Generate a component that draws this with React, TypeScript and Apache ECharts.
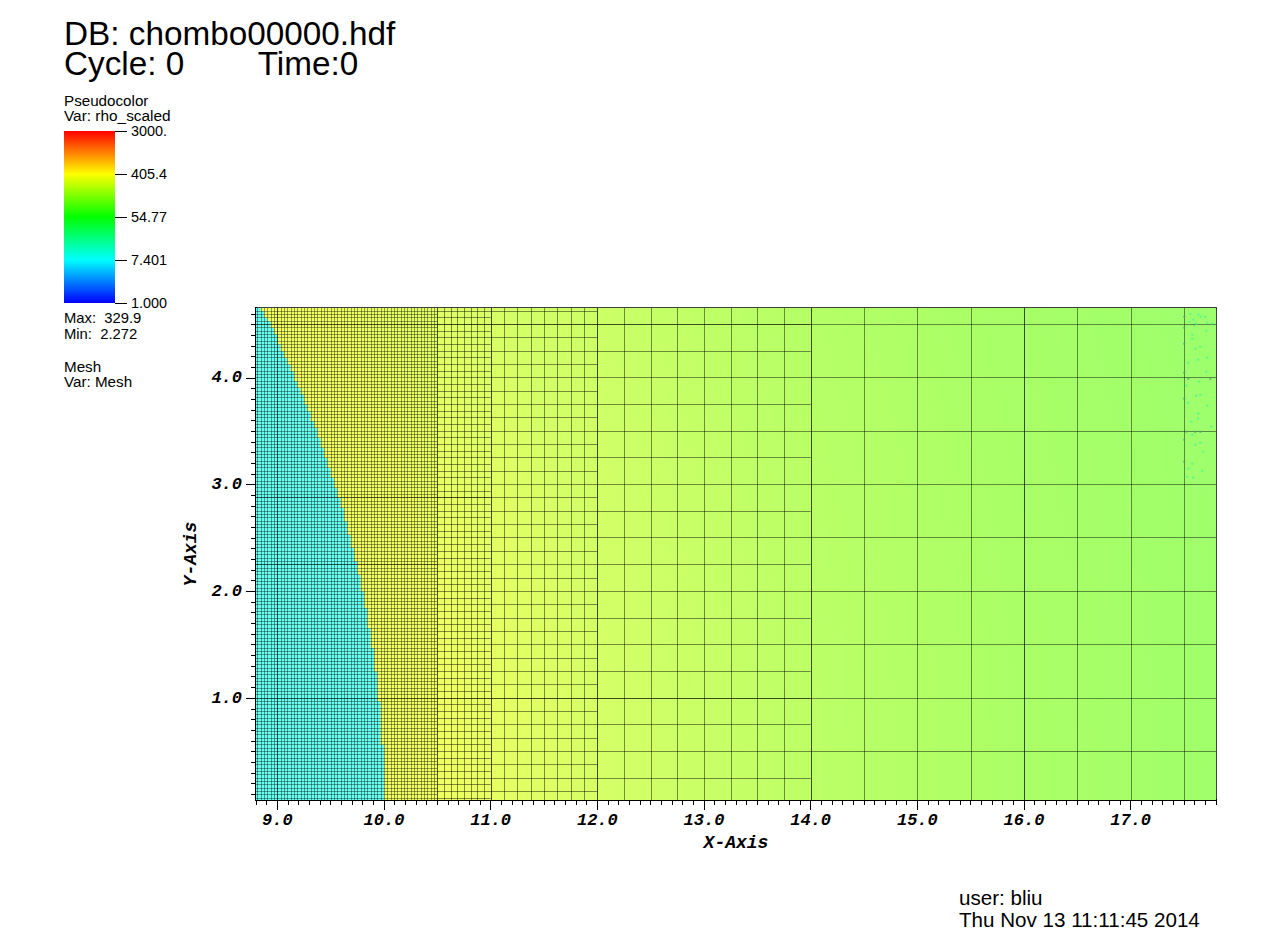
import React, { useEffect, useRef } from "react";
import * as echarts from "echarts";

const xRange = [8.8, 17.8];
const yRange = [0.045, 4.655];
const xTickLabels = [9, 10, 11, 12, 13, 14, 15, 16, 17];
const yTickLabels = [1, 2, 3, 4];
const tenths = [0, 0.1, 0.2, 0.3, 0.4, 0.5, 0.6, 0.7, 0.8, 0.9];
const wholes = [0, 1, 2, 3, 4, 5, 6, 7, 8, 9, 10, 11, 12, 13, 14, 15, 16, 17];

const meshFractions = [0, 0.03125, 0.0625, 0.09375, 0.125, 0.15625, 0.1875, 0.21875, 0.25, 0.28125, 0.3125, 0.34375, 0.375, 0.40625, 0.4375, 0.46875, 0.5, 0.53125, 0.5625, 0.59375, 0.625, 0.65625, 0.6875, 0.71875, 0.75, 0.78125, 0.8125, 0.84375, 0.875, 0.90625, 0.9375, 0.96875];
// x start, x end, cell size of each refinement block, line opacity
const meshBlocks = [
  [8.8, 10.5, 0.03125, 0.38],
  [10.5, 11, 0.0625, 0.45],
  [11, 12, 0.125, 0.45],
  [12, 14, 0.25, 0.45],
  [14, 17.8, 0.5, 0.45],
];
const heavyXLines = [9, 16];
// y of each heavier horizontal line, and the x where it stops
const heavyY = [1, 2.25, 2.875, 4.5];
const heavyYEnd = [14, 10.5, 11, 14];

// staircase edge of the cyan region: x of the edge, and the y where that step ends
const frontX = [8.84375, 8.875, 8.90625, 8.9375, 8.96875, 9, 9.03125, 9.0625, 9.09375, 9.125, 9.15625, 9.1875, 9.21875, 9.25, 9.28125, 9.3125, 9.34375, 9.375, 9.40625, 9.4375, 9.46875, 9.5, 9.53125, 9.5625, 9.59375, 9.625, 9.65625, 9.6875, 9.71875, 9.75, 9.78125, 9.8125, 9.84375, 9.875, 9.90625, 9.9375, 9.96875, 10];
const frontY = [4.625, 4.5625, 4.53125, 4.46875, 4.40625, 4.3125, 4.25, 4.1875, 4.125, 4.0625, 3.96875, 3.90625, 3.84375, 3.75, 3.6875, 3.59375, 3.53125, 3.4375, 3.34375, 3.25, 3.15625, 3.0625, 2.96875, 2.875, 2.78125, 2.65625, 2.53125, 2.40625, 2.28125, 2.15625, 2, 1.84375, 1.65625, 1.46875, 1.25, 0.96875, 0.5625, 0.04];

// colour of the field against distance from the origin
const fieldRadius = [10, 10.5, 11, 12, 13, 14, 15, 16, 17, 18, 18.5];
const fieldColor = ["#f4ff60", "#f0ff60", "#e7ff62", "#d6ff66", "#caff66", "#bdff66", "#b3ff66", "#abff66", "#a5ff68", "#9fff6c", "#9cff6e"];

const specksLightX = [17.559, 17.634, 17.656, 17.7, 17.587, 17.55, 17.719, 17.615, 17.765, 17.578, 17.709, 17.578, 17.653, 17.606, 17.719, 17.634, 17.54, 17.709, 17.644, 17.522, 17.653, 17.615, 17.54, 17.719, 17.634, 17.634, 17.569, 17.756, 17.578, 17.653, 17.606, 17.681, 17.578, 17.54, 17.672, 17.531, 17.587];
const specksLightY = [4.599, 4.593, 4.574, 4.574, 4.546, 4.527, 4.518, 4.509, 4.509, 4.406, 4.443, 4.368, 4.293, 4.274, 4.19, 4.171, 4.143, 4.059, 3.965, 3.928, 3.843, 3.834, 3.768, 3.74, 3.665, 3.618, 3.59, 3.543, 3.468, 3.393, 3.374, 3.309, 3.196, 3.149, 3.13, 3.074, 3.065];
const specksDarkX = [17.503, 17.503, 17.503, 17.503, 17.503, 17.503, 17.503, 17.54, 17.747, 17.522, 17.606, 17.653, 17.597];
const specksDarkY = [4.574, 4.471, 4.321, 4.049, 3.806, 3.421, 3.215, 3.993, 3.993, 3.496, 3.496, 3.496, 4.499];

const colorbarStops = ["#ff0000", "#ffff00", "#00ff00", "#00ffff", "#0000ff"];
const colorbarLabels = ["3000.", "405.4", "54.77", "7.401", "1.000"];

const SANS = "'Liberation Sans', sans-serif";
const MONO = "'Liberation Mono', monospace";

const onMesh = (v: number, step: number) => v % step === 0;

function meshLines() {
  const values = wholes.flatMap((w) => meshFractions.map((f) => w + f));
  const lines: number[][] = [];
  for (const [x0, x1, step, alpha] of meshBlocks) {
    for (const x of values) {
      if (x >= x0 && x <= x1 && onMesh(x, step)) lines.push([x, yRange[0], x, yRange[1], alpha]);
    }
    for (const y of values) {
      if (y > yRange[0] && y < yRange[1] && onMesh(y, step)) lines.push([x0, y, x1, y, alpha]);
    }
  }
  for (const x of heavyXLines) lines.push([x, yRange[0], x, yRange[1], 0.45]);
  heavyY.forEach((y, i) => lines.push([xRange[0], y, heavyYEnd[i], y, 0.45]));
  return lines;
}

function frontPolygon() {
  const pts: number[][] = [[xRange[0], yRange[1]]];
  let top = yRange[1];
  frontX.forEach((x, i) => {
    pts.push([x, top], [x, frontY[i]]);
    top = frontY[i];
  });
  pts.push([xRange[0], yRange[0]]);
  return pts;
}

function buildOption() {
  const graphic: any[] = [];
  const text = (x: number, y: number, t: string, size: number, align = "left") =>
    graphic.push({
      type: "text",
      x,
      y,
      silent: true,
      style: { text: t, fontFamily: SANS, fontSize: size, fill: "#000", align, verticalAlign: "middle" },
    });
  text(64, 33, "DB: chombo00000.hdf", 33.3);
  text(64, 63, "Cycle: 0        Time:0", 33.3);
  text(64, 100, "Pseudocolor", 15.2);
  text(64, 115, "Var: rho_scaled", 15.4);
  text(64, 318, "Max:  329.9", 14.8);
  text(64, 334, "Min:  2.272", 14.8);
  text(64, 366, "Mesh", 15.2);
  text(64, 381, "Var: Mesh", 15.2);
  text(959, 897.5, "user: bliu", 20.6);
  text(959, 919.5, "Thu Nov 13 11:11:45 2014", 20.6);
  graphic.push({
    type: "rect",
    shape: { x: 64, y: 131, width: 51, height: 172 },
    style: {
      fill: new echarts.graphic.LinearGradient(0, 0, 0, 1, colorbarStops.map((color, i) => ({ offset: i / (colorbarStops.length - 1), color }))),
    },
  });
  colorbarLabels.forEach((label, i) => {
    const y = 131 + i * 43;
    graphic.push({ type: "line", shape: { x1: 115, y1: y + 0.5, x2: 127, y2: y + 0.5 }, style: { stroke: "#000", lineWidth: 1 } });
    text(131, y, label, 14.4);
  });

  const minorTicks = (lo: number, hi: number) =>
    wholes.flatMap((w) => tenths.map((t) => Math.round((w + t) * 10) / 10)).filter((v) => v >= lo && v <= hi);

  const axisBase = {
    type: "value",
    scale: true,
    splitLine: { show: false },
    axisLine: { show: true, onZero: false, lineStyle: { color: "#000", width: 2 } },
  };
  const nameStyle = { fontFamily: MONO, fontWeight: "bold", fontStyle: "italic", fontSize: 18, color: "#000" };
  const labelStyle = { fontFamily: MONO, fontWeight: "bold", fontStyle: "italic", fontSize: 17, color: "#000" };

  return {
    animation: false,
    backgroundColor: "#fff",
    graphic,
    grid: { left: 256, top: 308, width: 960, height: 492, show: false },
    xAxis: [
      {
        ...axisBase,
        min: xRange[0],
        max: xRange[1],
        position: "bottom",
        name: "X-Axis",
        nameLocation: "middle",
        nameGap: 30,
        nameTextStyle: nameStyle,
        axisTick: { show: true, length: 10, customValues: xTickLabels, lineStyle: { color: "#000" } },
        axisLabel: { show: true, margin: 12, customValues: xTickLabels, formatter: (v: number) => v.toFixed(1), ...labelStyle },
      },
      {
        ...axisBase,
        min: xRange[0],
        max: xRange[1],
        position: "bottom",
        axisTick: { show: true, length: 5, customValues: minorTicks(xRange[0], xRange[1]), lineStyle: { color: "#000" } },
        axisLabel: { show: false },
      },
      {
        ...axisBase,
        min: xRange[0],
        max: xRange[1],
        position: "top",
        axisLine: { show: true, onZero: false, lineStyle: { color: "#000", width: 1.5 } },
        axisTick: { show: false },
        axisLabel: { show: false },
      },
    ],
    yAxis: [
      {
        ...axisBase,
        min: yRange[0],
        max: yRange[1],
        position: "left",
        name: "Y-Axis",
        nameLocation: "middle",
        nameGap: 50,
        nameTextStyle: nameStyle,
        axisTick: { show: true, length: 10, customValues: yTickLabels, lineStyle: { color: "#000" } },
        axisLabel: { show: true, margin: 14, customValues: yTickLabels, formatter: (v: number) => v.toFixed(1), ...labelStyle },
      },
      {
        ...axisBase,
        min: yRange[0],
        max: yRange[1],
        position: "left",
        axisTick: { show: true, length: 5, customValues: minorTicks(yRange[0], yRange[1]), lineStyle: { color: "#000" } },
        axisLabel: { show: false },
      },
      {
        ...axisBase,
        min: yRange[0],
        max: yRange[1],
        position: "right",
        axisLine: { show: true, onZero: false, lineStyle: { color: "#000", width: 1.5 } },
        axisTick: { show: false },
        axisLabel: { show: false },
      },
    ],
    series: [
      {
        type: "custom",
        coordinateSystem: "cartesian2d",
        silent: true,
        clip: true,
        z: 1,
        data: [[xRange[0], yRange[1], xRange[1], yRange[0]]],
        renderItem: (_p: any, api: any) => {
          const a = api.coord([xRange[0], yRange[1]]);
          const b = api.coord([xRange[1], yRange[0]]);
          const c = api.coord([0, 0]);
          const e = api.coord([fieldRadius[fieldRadius.length - 1], 0]);
          const R = e[0] - c[0];
          const rMax = fieldRadius[fieldRadius.length - 1];
          const stops = fieldRadius.map((r, i) => ({ offset: r / rMax, color: fieldColor[i] }));
          return {
            type: "rect",
            shape: { x: a[0], y: a[1], width: b[0] - a[0], height: b[1] - a[1] },
            style: { fill: new echarts.graphic.RadialGradient(c[0], c[1], R, stops, true) },
          };
        },
      },
      {
        type: "custom",
        coordinateSystem: "cartesian2d",
        silent: true,
        clip: true,
        z: 1,
        data: [[xRange[0], yRange[0]]],
        renderItem: (_p: any, api: any) => ({
          type: "polygon",
          shape: { points: frontPolygon().map((p) => api.coord(p)) },
          style: { fill: "#66fff0" },
        }),
      },
      {
        type: "scatter",
        symbol: "rect",
        symbolSize: 2,
        silent: true,
        z: 1,
        itemStyle: { color: "#40ff90" },
        data: specksLightX.map((x, i) => [x, specksLightY[i]]),
      },
      {
        type: "scatter",
        symbol: "rect",
        symbolSize: 2,
        silent: true,
        z: 1,
        itemStyle: { color: "#4f9f80" },
        data: specksDarkX.map((x, i) => [x, specksDarkY[i]]),
      },
      {
        type: "custom",
        coordinateSystem: "cartesian2d",
        silent: true,
        clip: true,
        z: 1,
        data: meshLines(),
        renderItem: (_p: any, api: any) => {
          const a = api.coord([api.value(0), api.value(1)]);
          const b = api.coord([api.value(2), api.value(3)]);
          const vertical = api.value(0) === api.value(2);
          return {
            type: "line",
            shape: vertical
              ? { x1: Math.round(a[0]) + 0.5, y1: a[1], x2: Math.round(a[0]) + 0.5, y2: b[1] }
              : { x1: a[0], y1: Math.floor(a[1]) + 0.5, x2: b[0], y2: Math.floor(a[1]) + 0.5 },
            style: { stroke: `rgba(0,0,0,${api.value(4)})`, lineWidth: 1, fill: "none" },
          };
        },
      },
    ],
  };
}

export default function App() {
  const ref = useRef<HTMLDivElement>(null);
  useEffect(() => {
    document.body.style.margin = "0";
    const chart = echarts.init(ref.current!, undefined, { renderer: "svg" });
    chart.setOption(buildOption() as any);
    return () => chart.dispose();
  }, []);
  return <div ref={ref} style={{ position: "absolute", left: 0, top: 0, width: 1280, height: 942 }} />;
}
